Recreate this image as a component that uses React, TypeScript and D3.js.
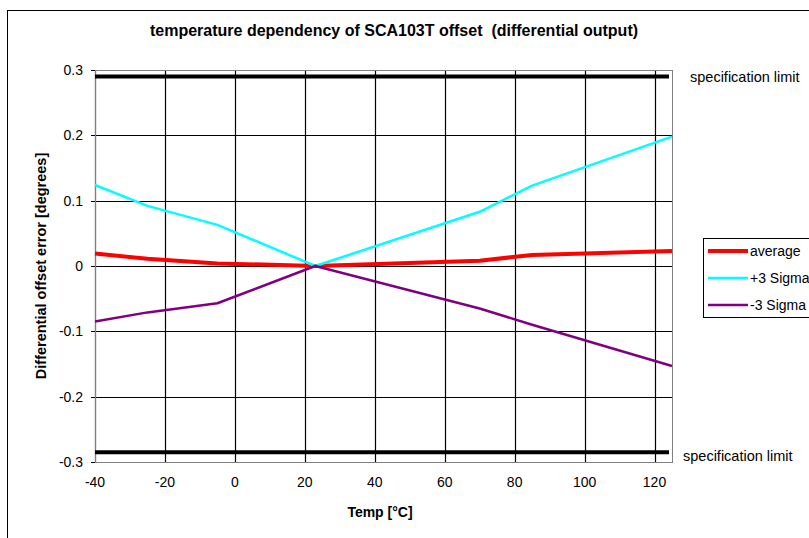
import React from "react";
import * as d3 from "d3";

const temps = [-40, -25, -5, 23, 70, 85, 125];
const average = [0.019, 0.011, 0.004, 0, 0.008, 0.017, 0.023];
const plus3Sigma = [0.124, 0.092, 0.063, 0, 0.083, 0.123, 0.198];
const minus3Sigma = [-0.085, -0.071, -0.057, 0, -0.065, -0.09, -0.153];
const specUpper = 0.29;
const specLower = -0.285;
const xTicks = [-40, -20, 0, 20, 40, 60, 80, 100, 120];
const yTicks = [-0.3, -0.2, -0.1, 0, 0.1, 0.2, 0.3];

const series = [
  { name: "average", values: average, color: "#FF0000", width: 4 },
  { name: "+3 Sigma", values: plus3Sigma, color: "#00FFFF", width: 2.5 },
  { name: "-3 Sigma", values: minus3Sigma, color: "#800080", width: 2.5 },
];

const W = 809;
const H = 538;
const L = 95, R = 672, T = 70, B = 462;
const font = "Arial, 'Liberation Sans', sans-serif";

export default function App() {
  const x = d3.scaleLinear().domain([-40, 125]).range([L, R]);
  const y = d3.scaleLinear().domain([-0.3, 0.3]).range([B, T]);
  const line = d3
    .line<[number, number]>()
    .x((d) => x(d[0]))
    .y((d) => y(d[1]));
  const fmtY = (v: number) =>
    v === 0 ? "0" : d3.format(".1f")(v).replace("\u2212", "-");

  return (
    <svg
      width={W}
      height={H}
      style={{ position: "absolute", left: 0, top: 0, background: "#fff" }}
      fontFamily={font}
    >
      <rect x={0} y={0} width={W} height={H} fill="#fff" />
      <rect x={7.5} y={10.5} width={900} height={700} fill="none" stroke="#000" strokeWidth={1} />
      <text x={394} y={36} textAnchor="middle" fontSize={16} fontWeight="bold">
        temperature dependency of SCA103T offset{"\u00a0\u00a0"}(differential output)
      </text>

      {/* gridlines */}
      {yTicks.map((t) => (
        <line key={"gy" + t} x1={L} x2={R} y1={Math.round(y(t)) + 0.5} y2={Math.round(y(t)) + 0.5} stroke="#000" strokeWidth={1} />
      ))}
      {xTicks.map((t) => (
        <line key={"gx" + t} x1={Math.round(x(t)) + 0.5} x2={Math.round(x(t)) + 0.5} y1={T} y2={B} stroke="#000" strokeWidth={1.2} />
      ))}
      {/* x-axis ticks at zero line */}
      {xTicks.map((t) => (
        <line key={"tx" + t} x1={Math.round(x(t)) + 0.5} x2={Math.round(x(t)) + 0.5} y1={y(0)} y2={y(0) + 5} stroke="#000" strokeWidth={1} />
      ))}
      {/* y-axis ticks */}
      {yTicks.map((t) => (
        <line key={"ty" + t} x1={L - 4} x2={L} y1={Math.round(y(t)) + 0.5} y2={Math.round(y(t)) + 0.5} stroke="#000" strokeWidth={1} />
      ))}
      <rect x={L + 0.5} y={T + 0.5} width={R - L} height={B - T} fill="none" stroke="#808080" strokeWidth={1} />

      {/* spec limits */}
      <line x1={L} x2={R - 3} y1={y(specUpper)} y2={y(specUpper)} stroke="#000" strokeWidth={4} />
      <line x1={L} x2={R - 3} y1={y(specLower)} y2={y(specLower)} stroke="#000" strokeWidth={4} />
      <text x={690} y={82} fontSize={14.5}>specification limit</text>
      <text x={683} y={461} fontSize={14.5}>specification limit</text>

      {/* series */}
      {series.map((s) => (
        <path
          key={s.name}
          d={line(temps.map((t, i) => [t, s.values[i]] as [number, number])) || ""}
          fill="none"
          stroke={s.color}
          strokeWidth={s.width}
          strokeLinejoin="round"
        />
      ))}

      {/* tick labels */}
      {yTicks.map((t) => (
        <text key={"ly" + t} x={83} y={y(t) + 5} textAnchor="end" fontSize={14}>
          {fmtY(t)}
        </text>
      ))}
      {xTicks.map((t) => (
        <text key={"lx" + t} x={x(t)} y={487} textAnchor="middle" fontSize={14}>
          {t}
        </text>
      ))}

      <text x={380} y={517} textAnchor="middle" fontSize={14} fontWeight="bold">
        Temp [°C]
      </text>
      <text
        transform={`translate(46, ${(T + B) / 2}) rotate(-90)`}
        textAnchor="middle"
        fontSize={14.5}
        fontWeight="bold"
      >
        Differential offset error [degrees]
      </text>

      {/* legend */}
      <rect x={703.5} y={238.5} width={200} height={79} fill="#fff" stroke="#000" strokeWidth={1} />
      {series.map((s, i) => {
        const ly = 251 + i * 27;
        return (
          <g key={"lg" + s.name}>
            <line x1={708} x2={748} y1={ly} y2={ly} stroke={s.color} strokeWidth={s.width} />
            <text x={750} y={ly + 5} fontSize={14}>
              {s.name}
            </text>
          </g>
        );
      })}
    </svg>
  );
}
